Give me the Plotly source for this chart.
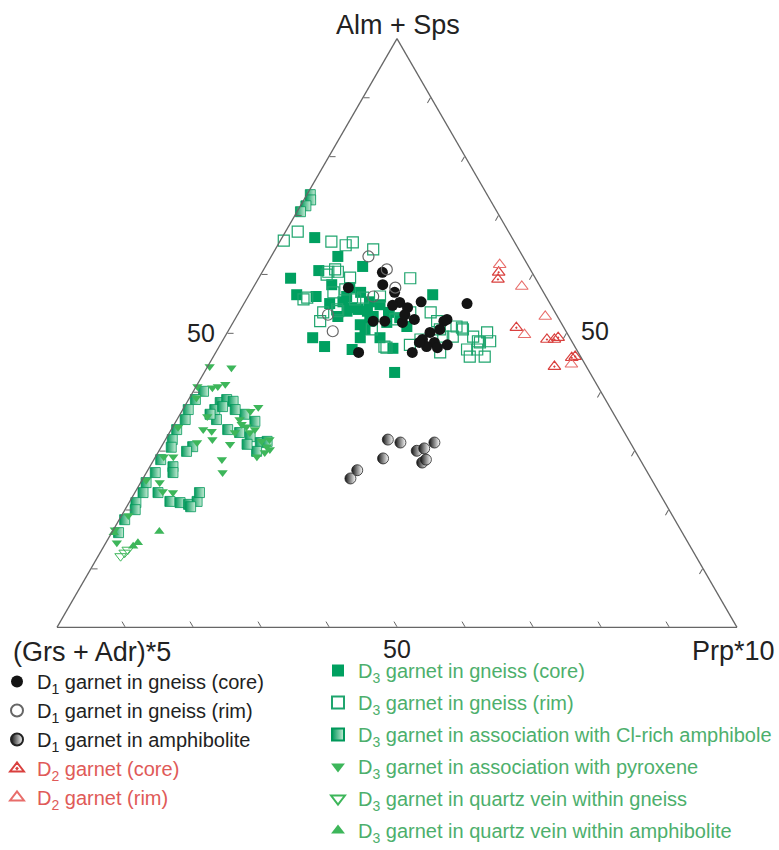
import plotly.graph_objects as go

# ---------------- data: (Alm+Sps, (Grs+Adr)*5, Prp*10) in percent ----------------
d1_core = [(60.3,22.0,17.7),(58.2,23.0,18.8),(57.7,28.3,14.0),(56.9,21.9,21.2),(55.3,18.8,25.9),
           (55.0,12.2,32.8),(55.2,22.0,22.8),(54.3,21.3,24.4),(52.0,27.5,20.5),(52.0,25.8,22.2),
           (52.3,21.3,26.4),(51.8,23.3,24.9),(52.0,17.1,30.9),(50.1,20.1,29.8),(48.9,21.8,29.3),
           (48.4,20.3,31.3),(48.0,18.6,33.4),(46.7,24.4,28.9),(46.7,32.3,21.0),(47.7,21.8,30.5),
           (48.4,22.5,29.1),(47.5,20.3,32.2),(52.3,16.5,31.2),(50.6,18.4,31.0),(53.1,22.3,24.6),
           (54.7,23.3,22.0)]
d1_rim = [(63.0,22.7,14.3),(60.8,21.1,18.1),(50.3,34.3,15.4),(53.1,33.6,13.3),(57.7,21.4,20.9),
          (56.2,25.4,18.4)]
d1_amph = [(31.9,35.4,32.7),(31.4,33.8,34.8),(28.7,37.7,33.6),(30.0,32.1,37.9),(30.4,30.8,38.8),
           (31.4,28.8,39.8),(28.0,32.3,39.7),(28.5,31.5,40.0),(26.7,42.5,30.8),(25.3,44.2,30.5)]
d2_core = [(60.3,4.9,34.8),(59.1,5.6,35.3),(50.9,7.0,42.1),(48.9,3.5,47.6),(48.9,2.4,48.7),
           (49.2,1.7,49.1),(46.0,0.8,53.2),(45.8,1.4,52.8),(44.3,4.7,51.0)]
d2_rim = [(61.6,4.1,34.3),(57.9,2.7,39.4),(52.8,1.8,45.4),(49.7,6.4,43.9),(44.7,2.0,53.3)]

d3_core = [(66.2,29.0,4.8),(63.0,27.2,9.8),(61.3,24.4,14.3),(60.6,31.2,8.2),(59.3,36.0,4.7),
           (58.2,30.5,11.3),(57.7,28.1,14.2),(56.5,36.5,7.0),(56.2,33.8,10.0),(55.3,30.3,14.4),
           (55.0,32.4,12.6),(54.0,28.7,17.3),(53.7,30.5,15.8),(52.8,27.1,20.1),(53.5,24.5,22.0),
           (56.5,16.5,27.0),(49.2,37.8,13.0),(47.7,36.8,15.5),(49.2,30.8,20.0),(51.4,29.7,18.9),
           (55.3,26.4,18.3),(47.4,26.9,25.7),(50.6,29.4,20.0),(52.0,28.0,20.0),(51.8,25.6,22.6),
           (51.1,23.0,25.9),(43.3,28.7,28.0),(54.8,25.1,20.1),(52.6,23.3,24.1),(47.2,33.0,19.8),
           (49.2,27.9,22.9),(56.2,29.3,14.5),(56.9,26.9,16.2),(52.8,32.3,14.9),(53.7,27.5,18.8),
           (54.3,29.5,16.2)]
d3_rim = [(67.2,31.0,1.8),(65.7,33.8,0.5),(65.5,26.9,7.6),(65.4,23.8,10.8),(64.9,25.1,10.0),
          (64.2,21.4,14.4),(59.3,18.4,22.3),(60.8,28.7,10.5),(56.0,35.2,8.8),(53.5,34.1,12.4),
          (52.0,35.3,12.7),(56.2,24.4,19.4),(56.0,27.0,17.0),(54.0,22.6,23.4),(53.5,21.3,25.2),
          (53.5,18.3,28.2),(52.0,18.1,29.9),(51.1,15.7,33.2),(50.6,15.0,34.4),(49.4,14.1,36.5),
          (50.1,11.7,38.2),(48.4,13.6,38.0),(47.2,16.1,36.7),(48.6,12.0,39.4),(47.2,14.6,38.2),
          (46.0,14.1,39.9),(47.5,27.8,24.7),(50.6,18.4,31.0),(49.4,17.1,33.5),(60.4,29.9,9.7),
          (55.7,35.9,8.4),(53.7,31.8,14.5),(47.7,28.0,24.3),(49.4,18.5,32.1),(46.7,20.3,33.0),
          (50.9,15.0,34.1),(48.6,13.8,37.6),(46.0,16.3,37.7),(55.7,28.3,16.0),(52.3,24.1,23.6),
          (48.9,22.1,29.0),(48.0,24.1,27.9),(50.6,28.4,21.0),(57.4,28.9,13.7),(59.9,30.4,9.7),
          (60.4,28.5,11.1),(59.4,27.2,13.4),(56.9,30.9,12.2),(54.0,31.8,14.2)]
d3_cl = [(73.5,26.0,0.5),(72.6,26.4,1.0),(71.6,27.6,0.8),(70.6,28.9,0.5),
         (40.1,58.4,1.5),(38.7,60.3,1.0),(37.0,62.2,0.8),(35.3,63.5,1.2),(33.6,65.6,0.8),
         (31.9,67.1,1.0),(30.6,67.9,1.5),(28.5,70.5,1.0),(26.3,72.4,1.3),(24.6,74.6,0.8),
         (22.9,75.9,1.2),(21.2,77.8,1.0),(20.0,78.5,1.5),(18.3,80.9,0.8),(16.1,82.9,1.0),
         (38.2,56.9,4.9),(38.7,55.7,5.6),(38.4,54.9,6.7),(37.0,58.3,4.7),(37.5,56.9,5.6),
         (35.3,58.9,5.8),(33.6,58.1,8.3),(33.1,56.6,10.3),(32.4,55.4,12.2),(31.4,54.4,14.2),
         (31.6,53.3,15.1),(29.9,55.7,14.4),(31.1,56.5,12.4),(30.7,64.7,4.6),(29.9,66.0,4.1),
         (27.3,69.3,3.4),(26.3,69.8,3.9),(22.9,73.7,3.4),(21.4,72.7,5.9),(21.2,71.3,7.5),
         (20.9,70.2,8.9),(21.4,68.7,9.9),(22.9,67.6,9.5),(20.5,70.1,9.4),(36.2,54.3,9.5),
         (35.0,53.4,11.6),(37.0,55.3,7.7),(36.2,59.4,4.4)]
d3_pyx = [(44.3,55.4,0.3),(44.1,52.3,3.6),(40.9,58.9,0.2),(41.3,54.6,4.1),(40.7,56.8,2.5),
          (37.4,51.7,10.9),(28.5,61.5,10.0),(26.3,62.5,11.2),(33.6,61.7,4.7),(35.3,55.5,9.2),
          (34.1,55.1,10.8),(30.7,53.8,15.5),(29.0,56.1,14.9),(33.1,55.1,11.8),(33.1,57.3,9.6),
          (24.6,72.6,2.8),(23.1,72.9,4.0),(29.0,68.4,2.6),(16.6,83.2,0.2),(14.4,84.0,1.6),
          (31.4,63.7,4.9),(31.9,61.2,6.9),(22.9,71.5,5.6),(35.8,60.0,4.2),(31.6,54.1,14.3),
          (31.9,52.8,15.3),(29.7,54.6,15.7),(33.3,60.6,6.1),(40.9,55.9,3.2),(34.5,55.6,9.9),
          (33.6,54.1,12.3),(39.0,60.0,1.0),(34.0,65.2,0.8),(29.0,69.8,1.2),(25.0,74.4,0.6),
          (19.0,80.0,1.0),(36.7,53.2,10.1),(30.2,53.6,16.2),(31.1,59.0,9.9)]
d3_qv_gneiss = [(12.1,84.6,3.3),(12.7,83.7,3.6),(13.2,83.0,3.8)]
d3_qv_amph = [(13.8,81.9,4.3),(16.3,76.8,6.9),(16.1,83.6,0.3),(14.4,80.9,4.7)]

tick_vals = [10, 20, 30, 40, 50, 60, 70, 80, 90]
mid_label = "50"
apex_labels = ["Alm + Sps", "(Grs + Adr)*5", "Prp*10"]

GREEN_DARK = "#00a060"
GREEN_RIM = "#1fa56e"
GREEN_LIGHT = "#3db65a"
FONT = "Liberation Sans, Arial, sans-serif"

fig = go.Figure()


def add(data, name, legend, marker):
    fig.add_trace(go.Scatterternary(
        a=[p[0] for p in data], b=[p[1] for p in data], c=[p[2] for p in data],
        mode="markers", name=name, legend=legend, legendgroup=name,
        marker=marker, cliponaxis=False, hoverinfo="skip"))


add(d3_core, "D<sub>3</sub> garnet in gneiss (core)", "legend2",
    dict(symbol="square", size=11, color=GREEN_DARK, line=dict(width=0)))
add(d3_rim, "D<sub>3</sub> garnet in gneiss (rim)", "legend2",
    dict(symbol="square-open", size=11, color=GREEN_RIM, line=dict(width=1.2, color=GREEN_RIM)))
add(d3_cl, "D<sub>3</sub> garnet in association with Cl-rich amphibole", "legend2",
    dict(symbol="square", size=10, color="#00985a",
         gradient=dict(type="horizontal", color="#c8ecd6"), line=dict(width=0.8, color="#00985a")))
add(d3_pyx, "D<sub>3</sub> garnet in association with pyroxene", "legend2",
    dict(symbol="triangle-down", size=9, color=GREEN_LIGHT, line=dict(width=0)))
add(d3_qv_gneiss, "D<sub>3</sub> garnet in quartz vein within gneiss", "legend2",
    dict(symbol="triangle-down-open", size=10, color=GREEN_LIGHT, line=dict(width=1, color=GREEN_LIGHT)))
add(d3_qv_amph, "D<sub>3</sub> garnet in quartz vein within amphibolite", "legend2",
    dict(symbol="triangle-up", size=9, color=GREEN_LIGHT, line=dict(width=0)))

add(d1_core, "D<sub>1</sub> garnet in gneiss (core)", "legend",
    dict(symbol="circle", size=11, color="#141414", line=dict(width=0)))
add(d1_rim, "D<sub>1</sub> garnet in gneiss (rim)", "legend",
    dict(symbol="circle-open", size=11, color="#666666", line=dict(width=1.2, color="#666666")))
add(d1_amph, "D<sub>1</sub> garnet in amphibolite", "legend",
    dict(symbol="circle", size=11, color="#111111",
         gradient=dict(type="horizontal", color="#ffffff"), line=dict(width=0.8, color="#222222")))
add(d2_core, "<span style='color:#e05a58'>D<sub>2</sub> garnet (core)</span>", "legend",
    dict(symbol="triangle-up-open-dot", size=11, color="#d9403e", line=dict(width=1.2, color="#d9403e")))
add(d2_rim, "<span style='color:#e05a58'>D<sub>2</sub> garnet (rim)</span>", "legend",
    dict(symbol="triangle-up-open", size=11, color="#e86d6a", line=dict(width=1.1, color="#e86d6a")))

W, H = 779, 850
axis_common = dict(
    title=dict(text=""), tickmode="array", tickvals=tick_vals, showticklabels=False,
    ticks="inside", ticklen=6, tickwidth=1, tickcolor="#666666",
    linecolor="#666666", linewidth=1.3, showgrid=False, min=0,
)


def label(text, x, y, size):
    return dict(text=text, x=x / W, y=1 - y / H, xref="paper", yref="paper",
                showarrow=False, xanchor="center", yanchor="middle",
                font=dict(size=size, color="#222222", family=FONT))


fig.update_layout(
    width=W, height=H,
    margin=dict(l=0, r=0, t=0, b=0, autoexpand=False),
    paper_bgcolor="white",
    font=dict(family=FONT, color="#222222"),
    ternary=dict(
        sum=100,
        bgcolor="white",
        domain=dict(x=[57 / W, 737 / W], y=[1 - 628 / H, 1 - 38 / H]),
        aaxis=axis_common, baxis=axis_common, caxis=axis_common,
    ),
    legend=dict(x=-3 / W, y=1 - 662 / H, xanchor="left", yanchor="top",
                font=dict(size=20, color="#222222", family=FONT),
                bgcolor="rgba(0,0,0,0)", tracegroupgap=0, itemsizing="constant"),
    legend2=dict(x=318 / W, y=1 - 651 / H, xanchor="left", yanchor="top",
                 font=dict(size=20, color="#4daf6c", family=FONT),
                 bgcolor="rgba(0,0,0,0)", tracegroupgap=3, itemsizing="constant"),
    annotations=[
        label(apex_labels[0], 398, 25, 27),
        label(apex_labels[1], 92, 652, 27),
        label(apex_labels[2], 733, 651, 27),
        label(mid_label, 201, 333, 25),
        label(mid_label, 595, 331, 25),
        label(mid_label, 397, 649, 25),
    ],
)

fig.write_html("out.html")
